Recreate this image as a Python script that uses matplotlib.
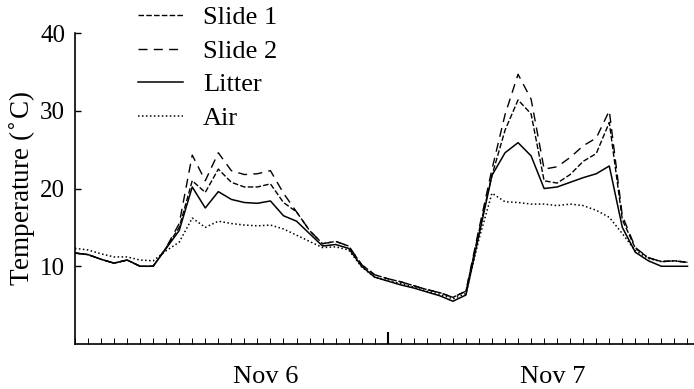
import matplotlib
matplotlib.use('Agg')
import matplotlib.pyplot as plt
from matplotlib.ticker import MultipleLocator, FixedLocator

plt.rcParams['font.family'] = ['Liberation Serif', 'DejaVu Serif']

# hours from midnight Nov 5/6
hours = list(range(0, 48))

slide1 = [11.7, 11.5, 10.9, 10.4, 10.8, 10.0, 10.0, 12.4, 15.0, 21.0,
          19.5, 22.5, 20.8, 20.2, 20.2, 20.6, 18.2, 17.0, 14.6, 12.9,
          13.2, 12.6, 10.2, 8.9, 8.4, 8.0, 7.5, 7.0, 6.6, 6.0,
          6.8, 14.5, 21.7, 27.5, 31.4, 29.6, 21.0, 20.7, 21.8, 23.5,
          24.5, 28.5, 16.0, 12.3, 11.1, 10.6, 10.7, 10.5]
slide2 = [11.7, 11.5, 10.9, 10.4, 10.8, 10.0, 10.0, 12.4, 15.5, 24.3,
          21.0, 24.6, 22.3, 21.8, 21.9, 22.3, 19.4, 17.0, 14.6, 12.9,
          13.2, 12.6, 10.2, 8.9, 8.4, 8.0, 7.5, 7.0, 6.6, 6.0,
          6.8, 14.8, 22.5, 29.5, 34.7, 31.5, 22.5, 22.8, 24.0, 25.5,
          26.5, 30.0, 16.5, 12.4, 11.1, 10.6, 10.7, 10.5]
litter = [11.7, 11.5, 10.9, 10.4, 10.8, 10.0, 10.0, 12.3, 14.6, 20.2,
          17.5, 19.6, 18.6, 18.2, 18.1, 18.4, 16.5, 15.8, 14.2, 12.6,
          12.8, 12.3, 10.0, 8.6, 8.1, 7.6, 7.2, 6.7, 6.2, 5.5,
          6.3, 14.0, 21.7, 24.6, 25.9, 24.2, 20.0, 20.2, 20.8, 21.4,
          21.9, 22.9, 15.0, 11.8, 10.7, 10.0, 10.0, 10.0]
air = [12.3, 12.1, 11.6, 11.2, 11.2, 10.8, 10.7, 12.0, 13.1, 16.2,
       15.0, 15.8, 15.5, 15.3, 15.2, 15.3, 14.8, 14.0, 13.2, 12.4,
       12.5, 12.1, 9.9, 8.6, 8.1, 7.8, 7.3, 6.8, 6.4, 5.8,
       6.5, 13.5, 19.4, 18.3, 18.2, 18.0, 18.0, 17.8, 18.0, 17.8,
       17.2, 16.3, 14.2, 12.0, 11.0, 10.6, 10.7, 10.5]

day_labels = ['Nov 6', 'Nov 7']
day_label_pos = [14.6, 36.7]

fig = plt.figure(figsize=(6.94, 3.89), dpi=100)
ax = fig.add_axes([0.108, 0.1157, 0.892, 0.7993])

ax.plot(hours, slide1, color='black', lw=1.0, dashes=(4, 1.6), label='Slide 1')
ax.plot(hours, slide2, color='black', lw=1.0, dashes=(6.5, 4.5), label='Slide 2')
ax.plot(hours, litter, color='black', lw=1.1, label='Litter')
ax.plot(hours, air, color='black', lw=1.1, dashes=(1, 1.6), label='Air')

ax.set_xlim(0, 47.5)
ax.set_ylim(0, 40)
ax.spines['top'].set_visible(False)
ax.spines['right'].set_visible(False)
ax.spines['left'].set_linewidth(1.2)
ax.spines['bottom'].set_linewidth(1.2)

ax.set_yticks([10, 20, 30, 40])
ax.xaxis.set_major_locator(FixedLocator([24]))
ax.xaxis.set_minor_locator(MultipleLocator(1))
ax.set_xticklabels([])
ax.tick_params(axis='y', direction='in', length=4, width=1, labelsize=18, pad=7)
ax.tick_params(axis='x', which='major', direction='in', length=9, width=1.5)
ax.tick_params(axis='x', which='minor', direction='in', length=4, width=0.7)

ax.set_ylabel('Temperature ($^{\\circ}$C)', fontsize=19.5, labelpad=2)

for lab, pos in zip(day_labels, day_label_pos):
    ax.text(pos, -0.105, lab, transform=ax.get_xaxis_transform(),
            ha='center', va='center', fontsize=19)

fig.legend(loc='upper left', bbox_to_anchor=(0.1836, 1.012), frameon=False,
           fontsize=19, handlelength=1.7, handletextpad=0.76,
           labelspacing=0.38, borderaxespad=0)

fig.savefig('out.png', dpi=100)
